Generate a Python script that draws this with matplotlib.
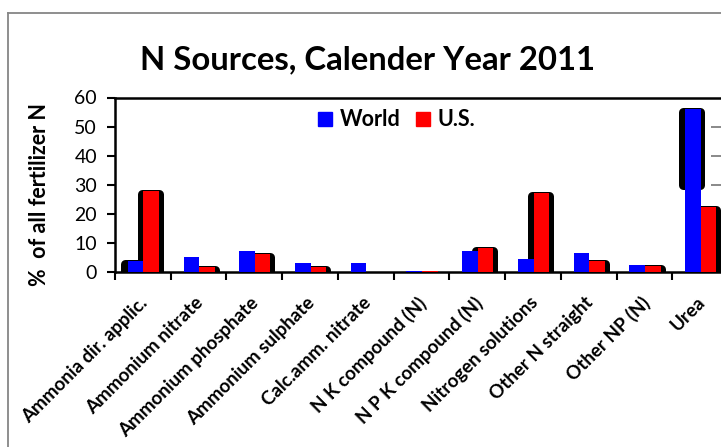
import matplotlib
matplotlib.use("Agg")
import matplotlib.pyplot as plt
import matplotlib.transforms as mtransforms
from matplotlib.lines import Line2D
from matplotlib.patches import Patch
import numpy as np

categories = ["Ammonia dir. applic.", "Ammonium nitrate", "Ammonium phosphate",
              "Ammonium sulphate", "Calc.amm. nitrate", "N K compound (N)",
              "N P K compound (N)", "Nitrogen solutions", "Other N straight",
              "Other NP (N)", "Urea"]
world = [3.7, 5.0, 7.2, 3.1, 3.1, 0.1, 7.2, 4.4, 6.5, 2.3, 56.0]
us = [27.8, 1.7, 6.1, 1.7, 0.0, 0.1, 8.0, 27.0, 3.8, 1.8, 22.4]
series_names = ["World", "U.S."]
yticks = [0, 10, 20, 30, 40, 50, 60]

plt.rcParams['font.family'] = ['Lato', 'DejaVu Sans']

W, H, DPI = 721, 447, 100
fig = plt.figure(figsize=(W / DPI, H / DPI), dpi=DPI)

# axes geometry (pixels)
ax_left, ax_right, ax_top, ax_bot = 115, 728, 97.5, 271.7
ax = fig.add_axes([ax_left / W, (H - ax_bot) / H, (ax_right - ax_left) / W, (ax_bot - ax_top) / H])
n = len(categories)
ax.set_xlim(0, n)
ax.set_ylim(0, 60)

px_x = n / (ax_right - ax_left)
px_y = 60 / (ax_bot - ax_top)

x = np.arange(n)
gc = x + 0.51
bw = 0.28
xw = gc - bw / 2
xu = gc + bw / 2

r_px = 4.5
lw_pt = 2 * r_px * 72 / DPI


def shadow(xc, h, base, left_ext=7, right_ext=4, top_ext=1.5):
    if h - base <= 0.5:
        return
    left = xc - bw / 2 - (left_ext - r_px) * px_x
    right = xc + bw / 2 + (right_ext - r_px) * px_x
    top = h + (top_ext - r_px) * px_y
    ax.bar((left + right) / 2, top - base, width=right - left, bottom=base,
           color='black', edgecolor='black', linewidth=lw_pt,
           joinstyle='round', zorder=1, clip_on=True)


# black depth/shadow shapes
world_shadow_base = {0: 0, 10: 30}
for i in range(n):
    if i in world_shadow_base:
        shadow(xw[i], world[i], world_shadow_base[i])
    shadow(xu[i], us[i], 0, left_ext=6, right_ext=4.5)

ax.bar(xw, world, width=bw, color='#0000FF', zorder=3, label=series_names[0])
ax.bar(xu, us, width=bw, color='#FF0000', zorder=4, label=series_names[1])

# back-wall gridline stubs at right
ax.hlines([30, 40, 50], n - 17 * px_x, n, colors='#808080', linewidth=1.3, zorder=0.5)

for s in ['top', 'left', 'bottom']:
    ax.spines[s].set_linewidth(1.8)
    ax.spines[s].set_color('black')
ax.spines['right'].set_visible(False)

ax.set_yticks(yticks)
ax.set_yticklabels([str(v) for v in yticks], fontsize=14)
ax.tick_params(axis='y', length=6, width=1.5, pad=7, direction='out')

ax.set_xticks(np.arange(n + 1), minor=True)
ax.set_xticks(x + 0.5)
ax.set_xticklabels(categories, rotation=45, ha='right', rotation_mode='anchor',
                   fontsize=13.5, fontweight='bold')
ax.tick_params(axis='x', which='major', length=0, pad=16)
ax.tick_params(axis='x', which='minor', length=6, width=1.5, direction='out')
offset = mtransforms.ScaledTranslation(-4 / DPI, 0, fig.dpi_scale_trans)
for lab in ax.get_xticklabels():
    lab.set_transform(lab.get_transform() + offset)

ax.set_ylabel("%  of all fertilizer N", fontsize=15.5, fontweight='bold')
ax.yaxis.set_label_coords(-(ax_left - 50) / (ax_right - ax_left), (ax_bot - 194) / (ax_bot - ax_top))

fig.text(368 / W, 1 - 60 / H, "N Sources, Calender Year 2011", ha='center', va='center',
         fontsize=23.7, fontweight='bold')

handles = [Patch(color='#0000FF'), Patch(color='#FF0000')]
leg = ax.legend(handles, series_names, ncol=2, frameon=False, loc='upper left',
                bbox_to_anchor=((306 - ax_left) / (ax_right - ax_left), 1.0),
                handlelength=0.65, handleheight=0.65, handletextpad=0.35,
                columnspacing=0.75, borderaxespad=0.15,
                prop={'family': 'Lato', 'weight': 'bold', 'size': 15.5})

# figure frame (gray) on left and top
fig.add_artist(Line2D([7.5 / W, 7.5 / W], [0, 1 - 13 / H], color='#868686', linewidth=1.3,
                      transform=fig.transFigure))
fig.add_artist(Line2D([7.5 / W, 1], [1 - 13 / H, 1 - 13 / H], color='#868686', linewidth=1.3,
                      transform=fig.transFigure))

fig.savefig("out.png", dpi=DPI)
